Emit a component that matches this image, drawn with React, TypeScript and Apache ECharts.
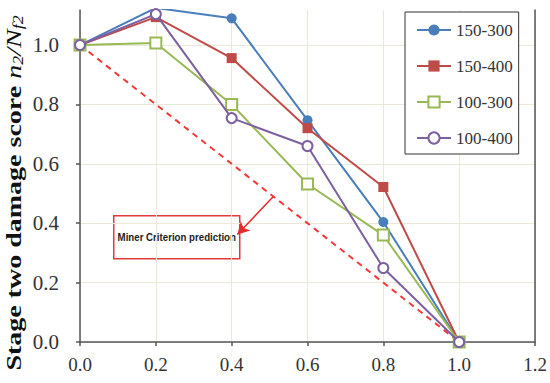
import React, { useEffect, useRef } from 'react';
import * as echarts from 'echarts';

const xValues = [0, 0.2, 0.4, 0.6, 0.8, 1.0];
const seriesNames = ['150-300', '150-400', '100-300', '100-400'];
const s150_300 = [1.0, 1.125, 1.09, 0.747, 0.404, 0.0];
const s150_400 = [1.0, 1.094, 0.956, 0.72, 0.522, 0.0];
const s100_300 = [1.0, 1.007, 0.8, 0.532, 0.36, 0.0];
const s100_400 = [1.0, 1.104, 0.754, 0.66, 0.249, 0.0];
const minerX = [0, 1.0];
const minerY = [1.0, 0.0];
const arrowFrom = [0.51, 0.49];
const arrowTo = [0.415, 0.362];
const yTickValues = [0, 0.2, 0.4, 0.6, 0.8, 1.0];

const SERIF = 'Liberation Serif';

const colors = ['#4a7ebb', '#be4b48', '#98b954', '#7d60a0'];
const symbols = ['circle', 'rect', 'emptyRect', 'emptyCircle'];
const symbolSizes = [10, 10, 11, 10];

export default function App() {
  const ref = useRef<HTMLDivElement>(null);
  useEffect(() => {
    if (!ref.current) return;
    document.body.style.margin = '0';
    const chart = echarts.init(ref.current, null, { renderer: 'svg' });
    const datasets = [s150_300, s150_400, s100_300, s100_400];
    const lineSeries = datasets.map((d, i) => ({
      name: seriesNames[i],
      type: 'line',
      data: d.map((v, j) => [xValues[j], v]),
      symbol: symbols[i],
      symbolSize: symbolSizes[i],
      showAllSymbol: true,
      lineStyle: { color: colors[i], width: 2 },
      itemStyle: { color: colors[i], borderWidth: 1.5 },
      z: 3 + i,
      clip: true,
    }));
    chart.setOption({
      animation: false,
      backgroundColor: '#ffffff',
      textStyle: { fontFamily: SERIF },
      grid: { left: 80, right: 15, top: 10, bottom: 41 },
      legend: {
        data: seriesNames,
        orient: 'vertical',
        left: 405,
        top: 12,
        itemWidth: 34,
        itemHeight: 14,
        itemGap: 16,
        padding: [8, 6, 6, 11],
        borderColor: '#333',
        borderWidth: 1,
        backgroundColor: '#fff',
        textStyle: { fontFamily: SERIF, fontSize: 17, color: '#333', lineHeight: 20 },
      },
      xAxis: {
        type: 'value',
        min: 0,
        max: 1.2,
        interval: 0.2,
        axisLine: { show: true, lineStyle: { color: '#555', width: 1.5 } },
        axisTick: { show: true, inside: false, length: 4, lineStyle: { color: '#555', width: 1.5 } },
        axisLabel: {
          fontFamily: SERIF,
          fontSize: 19,
          color: '#333',
          margin: 13,
          formatter: (v: number) => v.toFixed(1),
        },
        splitLine: { show: true, lineStyle: { color: '#ece8d8', width: 1 } },
      },
      yAxis: [
        {
          type: 'value',
          min: 0,
          max: 1.118,
          interval: 0.2,
          axisLine: { show: true, lineStyle: { color: '#555', width: 1.5 } },
          axisTick: {
            show: true,
            length: 4,
            customValues: yTickValues,
            lineStyle: { color: '#555', width: 1.5 },
          },
          axisLabel: {
            fontFamily: SERIF,
            fontSize: 21,
            color: '#333',
            margin: 21,
            customValues: yTickValues,
            formatter: (v: number) => v.toFixed(1),
          },
          splitLine: { show: true, lineStyle: { color: '#ece8d8', width: 1 } },
        },
        {
          type: 'value',
          position: 'right',
          min: 0,
          max: 1.118,
          axisLine: { show: true, onZero: false, lineStyle: { color: '#555', width: 1.5 } },
          axisTick: { show: false },
          axisLabel: { show: false },
          splitLine: { show: false },
        },
      ],
      graphic: [
        {
          type: 'text',
          x: 14,
          y: 193,
          rotation: Math.PI / 2,
          scaleX: 1,
          scaleY: 0.78,
          style: {
            text: '{b|Stage two damage score }{i|n}{s|2}{i|/N}{s|f2}',
            align: 'center',
            verticalAlign: 'middle',
            fill: '#111',
            rich: {
              b: { fontFamily: SERIF, fontWeight: 'bold', fontSize: 28, lineHeight: 30, verticalAlign: 'middle', fill: '#111' },
              i: { fontFamily: SERIF, fontStyle: 'italic', fontSize: 28, lineHeight: 30, verticalAlign: 'middle', fill: '#111' },
              s: { fontFamily: SERIF, fontStyle: 'italic', fontSize: 18, lineHeight: 18, verticalAlign: 'bottom', fill: '#111' },
            },
          },
          z: 10,
        },
        {
          type: 'group',
          left: 113,
          top: 215,
          z: 20,
          children: [
            {
              type: 'rect',
              shape: { x: 0, y: 0, width: 126, height: 43 },
              style: { fill: '#fff', stroke: '#e23a3a', lineWidth: 1.5 },
            },
            {
              type: 'text',
              x: 63,
              y: 22,
              scaleX: 0.88,
              style: {
                text: 'Miner Criterion prediction',
                align: 'center',
                verticalAlign: 'middle',
                fontFamily: 'Liberation Sans',
                fontWeight: 'bold',
                fontSize: 11,
                fill: '#222',
              },
            },
          ],
        },
      ],
      series: [
        {
          name: 'Miner',
          type: 'line',
          data: minerX.map((x, i) => [x, minerY[i]]),
          symbol: 'none',
          lineStyle: { color: '#f03a3a', width: 2, type: [6, 5] },
          z: 2,
          markLine: {
            silent: true,
            symbol: ['none', 'arrow'],
            symbolSize: [10, 12],
            label: { show: false },
            lineStyle: { color: '#e82a2a', width: 1.5, type: 'solid' },
            data: [[{ coord: arrowFrom }, { coord: arrowTo }]],
          },
        },
        ...lineSeries,
      ],
    });
    return () => chart.dispose();
  }, []);
  return <div ref={ref} style={{ width: 550, height: 383 }} />;
}
